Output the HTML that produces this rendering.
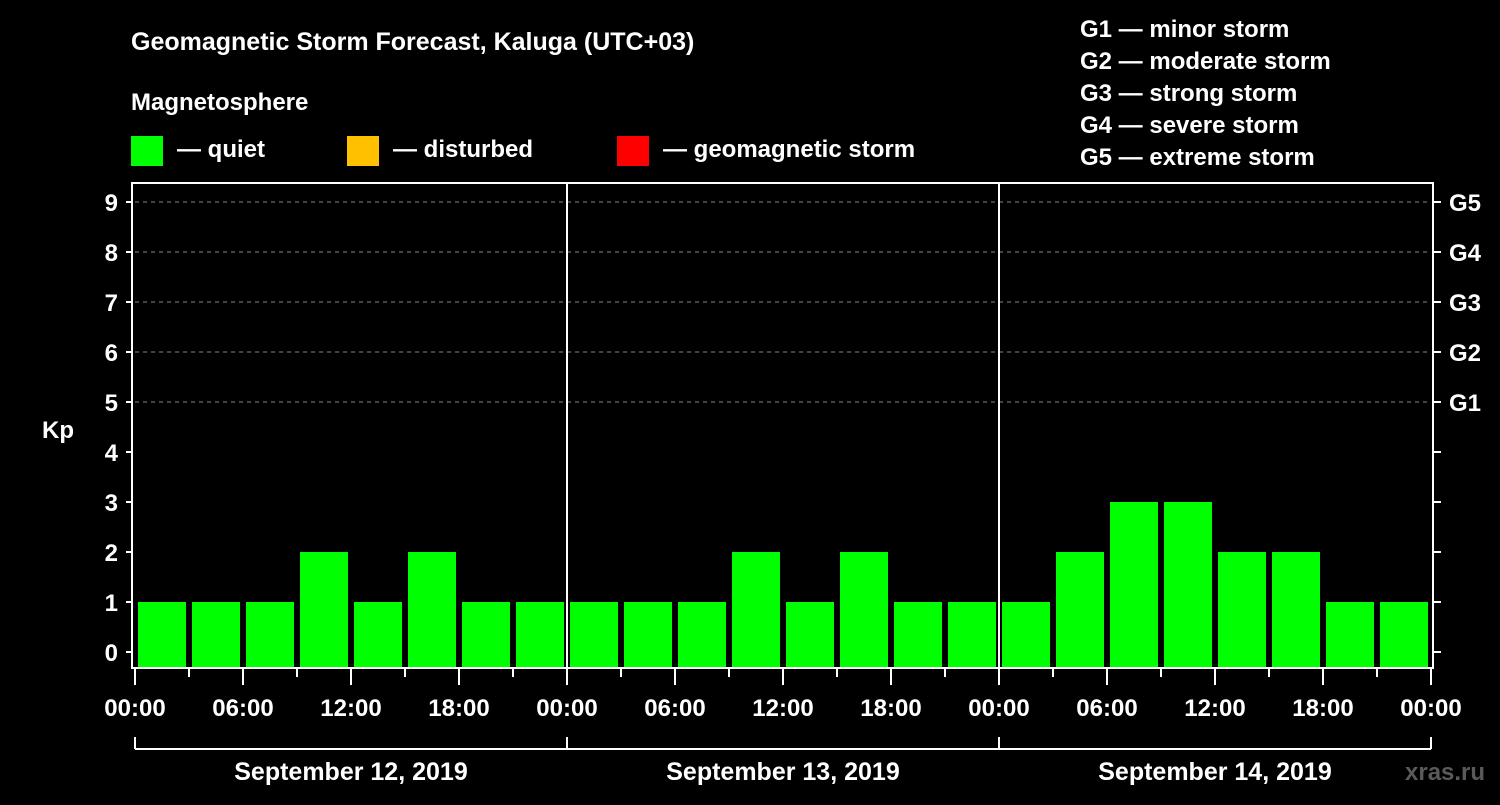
<!DOCTYPE html>
<html><head><meta charset="utf-8"><style>
body{margin:0;background:#000;width:1500px;height:800px;overflow:hidden}
svg text{font-family:"Liberation Sans",Arial,sans-serif;font-weight:bold;fill:#fff}
</style></head><body>
<svg id="chart" width="1500" height="800" xmlns="http://www.w3.org/2000/svg">
<text x="131" y="50" font-size="25">Geomagnetic Storm Forecast, Kaluga (UTC+03)</text>
<text x="131" y="110" font-size="24">Magnetosphere</text>
<g><rect x="131" y="136" width="32" height="30" fill="#00ff00"/><text x="177" y="157" font-size="24">— quiet</text></g>
<g><rect x="347" y="136" width="32" height="30" fill="#ffc000"/><text x="393" y="157" font-size="24">— disturbed</text></g>
<g><rect x="617" y="136" width="32" height="30" fill="#ff0000"/><text x="663" y="157" font-size="24">— geomagnetic storm</text></g>
<g font-size="24">
<text x="1080" y="37">G1 — minor storm</text>
<text x="1080" y="69">G2 — moderate storm</text>
<text x="1080" y="101">G3 — strong storm</text>
<text x="1080" y="133">G4 — severe storm</text>
<text x="1080" y="165">G5 — extreme storm</text>
</g>
<text x="42" y="438" font-size="24">Kp</text>
<g id="grid"></g><g id="bars"></g><g id="axes"></g>
<text x="1405" y="780" font-size="24" fill="#555" style="fill:#5a5a5a">xras.ru</text>
</svg>
<script>
const kpValues=[1,1,1,2,1,2,1,1, 1,1,1,2,1,2,1,1, 1,2,3,3,2,2,1,1];
const yTicks=[0,1,2,3,4,5,6,7,8,9];
const gLabels=["G1","G2","G3","G4","G5"];
const hourLabels=["00:00","06:00","12:00","18:00"];
const dayLabels=["September 12, 2019","September 13, 2019","September 14, 2019"];
const NS="http://www.w3.org/2000/svg";
const L=135,R=1431,T=183,B=668;
const slot=(R-L)/kpValues.length;
const y=v=>652-50*v;
const x=i=>L+i*slot;
function mk(t,a,p){const e=document.createElementNS(NS,t);for(const k in a)e.setAttribute(k,a[k]);p.appendChild(e);return e;}
const grid=document.getElementById('grid'),bars=document.getElementById('bars'),axes=document.getElementById('axes');
yTicks.forEach(v=>{
  if(v>=5){const g=mk('line',{x1:L,x2:R,y1:y(v),y2:y(v),stroke:'#888','stroke-dasharray':'4 4','stroke-width':1},grid);
  
  }
  mk('line',{x1:126,x2:132,y1:y(v),y2:y(v),stroke:'#fff','stroke-width':2},axes);
  mk('line',{x1:1433,x2:1441,y1:y(v),y2:y(v),stroke:'#fff','stroke-width':2},axes);
  const t=mk('text',{x:118,y:y(v)+9,'font-size':24,'text-anchor':'end'},axes);t.textContent=v;
  
  
});
gLabels.forEach((g,i)=>{const t=mk('text',{x:1449,y:y(5+i)+9,'font-size':24},axes);t.textContent=g;
  
  });
kpValues.forEach((v,i)=>{
  const r=mk('rect',{x:x(i)+3,y:y(v),width:slot-6,height:B-y(v),fill:v>=5?'#ff0000':(v>=4?'#ffc000':'#00ff00')},bars);
  
  
});
mk('rect',{x:132,y:T,width:1301,height:B-T,fill:'none',stroke:'#fff','stroke-width':2},axes);
for(let d=1;d<dayLabels.length;d++){mk('line',{x1:x(d*8),x2:x(d*8),y1:T,y2:B,stroke:'#fff','stroke-width':2},axes);}
for(let i=0;i<=kpValues.length;i++){
  const major=i%2===0;
  mk('line',{x1:x(i),x2:x(i),y1:B,y2:major?685:677,stroke:'#fff','stroke-width':2},axes);
  if(major){const t=mk('text',{x:x(i),y:716,'font-size':24,'text-anchor':'middle'},axes);t.textContent=hourLabels[(i/2)%4];
    
    }
}
mk('line',{x1:L,x2:R,y1:749,y2:749,stroke:'#fff','stroke-width':2},axes);
dayLabels.forEach((d,k)=>{
  mk('line',{x1:x(k*8),x2:x(k*8),y1:737,y2:749,stroke:'#fff','stroke-width':2},axes);
  const t=mk('text',{x:(x(k*8)+x(k*8+8))/2,y:780,'font-size':25,'text-anchor':'middle'},axes);t.textContent=d;
  
  
});
mk('line',{x1:R,x2:R,y1:737,y2:749,stroke:'#fff','stroke-width':2},axes);
</script>
</body></html>
